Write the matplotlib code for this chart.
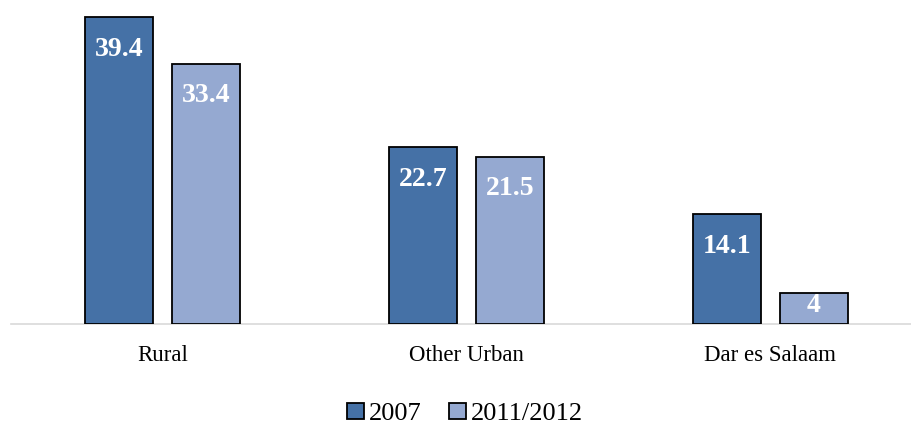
import matplotlib
matplotlib.use("Agg")
import matplotlib.pyplot as plt
import numpy as np

categories = ["Rural", "Other Urban", "Dar es Salaam"]
series_names = ["2007", "2011/2012"]
values_2007 = [39.4, 22.7, 14.1]
values_2012 = [33.4, 21.5, 4]
value_labels_2007 = ["39.4", "22.7", "14.1"]
value_labels_2012 = ["33.4", "21.5", "4"]

colors = ["#4571A6", "#95A9D1"]
serif = ["Liberation Serif", "DejaVu Serif"]

W, H = 912, 426
fig = plt.figure(figsize=(W / 100, H / 100), dpi=100)
ax = fig.add_axes([10.5 / W, 102 / H, 912 / W, 324 / H])

x = np.arange(len(categories))
offset = 0.143
width = 0.225

for vals, labels, col, name, dx in [
    (values_2007, value_labels_2007, colors[0], series_names[0], -offset),
    (values_2012, value_labels_2012, colors[1], series_names[1], offset),
]:
    bars = ax.bar(x + dx, vals, width, color=col, edgecolor="black",
                  linewidth=1.3, label=name, zorder=3)
    for xi, v, lab in zip(x + dx, vals, labels):
        y = max(v - 4.1, v * 0.6)
        ax.text(xi, y, lab, ha="center", va="center", color="white",
                fontsize=20, fontweight="bold", family=serif, zorder=4)

ax.set_xlim(-0.5, 2.5)
ax.set_ylim(0, 41.6)
ax.set_xticks(x)
ax.set_xticklabels(categories, family=serif, fontsize=16.5)
ax.tick_params(axis="x", length=0, pad=15)
ax.set_yticks([])
for s in ["top", "left", "right"]:
    ax.spines[s].set_visible(False)
ax.spines["bottom"].set_color("#D9D9D9")
ax.spines["bottom"].set_linewidth(1.2)
ax.spines["bottom"].set_zorder(2)

handles, labels = ax.get_legend_handles_labels()
fig.legend(handles, labels, loc="center", bbox_to_anchor=(465 / W, 12 / H),
           ncol=2, frameon=False, prop={"family": serif, "size": 19},
           handlelength=0.65, handleheight=0.6, handletextpad=0.2,
           columnspacing=1.0, borderaxespad=0, borderpad=0)

fig.savefig("out.png", dpi=100)
